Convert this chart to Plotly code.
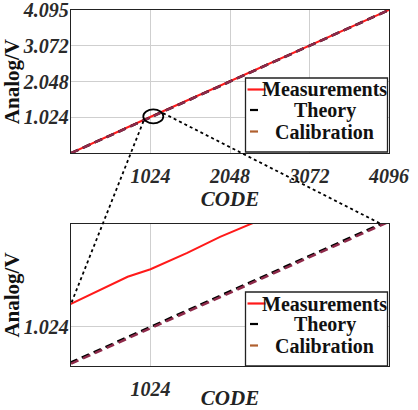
import plotly.graph_objects as go

# ---------------- data ----------------
theory_code = [0, 4095]
theory_v = [0.0, 4.095]

calib_code = [0, 4095]
calib_v = [-0.0003, 4.0947]

meas_code = [0, 1016, 1021.7, 1024, 1027.7, 1031, 1034.3, 4095]
meas_v = [0.0, 1.0292, 1.0353, 1.0370, 1.0407, 1.0443, 1.0474, 4.095]

top_xticks = [1024, 2048, 3072, 4096]
top_yticks = [1.024, 2.048, 3.072, 4.095]
top_yticktext = ["1.024", "2.048", "3.072", "4.095"]
bot_xticks = [1024]
bot_yticks = [1.024]
bot_yticktext = ["1.024"]

series_names = ["Measurements", "Theory", "Calibration"]
series_colors = ["#ff1a1a", "#000000", "#8e2a4a"]
legend_sample_colors = ["#ff1a1a", "#000000", "#b0602f"]

top_xrange = [0, 4096]
top_yrange = [0, 4.0951]
bot_xrange = [1016, 1048]
bot_yrange = [1.0152, 1.0472]

# ---------------- layout geometry ----------------
W, H = 418, 410
ML, MR, MT, MB = 71, 29, 10, 44
PW, PH = W - ML - MR, H - MT - MB
top_dom = [0.598, 1.0]
bot_dom = [0.0, 0.399]

FONT = "Liberation Serif"


def px2paper(x, y):
    return (x - ML) / PW, (H - MB - y) / PH


def data2paper(x, y, xr, yr, dom):
    px = (x - xr[0]) / (xr[1] - xr[0])
    py = dom[0] + (y - yr[0]) / (yr[1] - yr[0]) * (dom[1] - dom[0])
    return px, py


fig = go.Figure()

dashes = [None, "8px,5px", "8px,5px"]
widths = [2, 2.5, 2.5]
data_sets = [(meas_code, meas_v), (theory_code, theory_v), (calib_code, calib_v)]
for (xs, ys), name, col, dsh, wd in zip(data_sets, series_names, series_colors, dashes, widths):
    for xa, ya in [("x", "y"), ("x2", "y2")]:
        fig.add_trace(go.Scatter(
            x=xs, y=ys, mode="lines", name=name, xaxis=xa, yaxis=ya,
            line=dict(color=col, width=wd, dash=dsh), showlegend=False,
        ))

tickfont = dict(family=FONT, size=20, color="#2a2a2a", weight="bold", style="italic")
titlefont_y = dict(family=FONT, size=21, color="#111111", weight="bold")
titlefont_x = dict(family=FONT, size=21, color="#222222", weight="bold", style="italic")
grid = "#cfcfcf"

common_x = dict(showline=True, mirror=True, linecolor="#222222", linewidth=1.3,
                showgrid=True, gridcolor=grid, gridwidth=1, zeroline=False,
                ticks="", tickfont=tickfont, ticklabelstandoff=5, automargin=False,
                ticklabeloverflow="allow",
                title=dict(text="CODE", font=titlefont_x, standoff=3))
common_y = dict(showline=True, mirror=True, linecolor="#222222", linewidth=1.3,
                showgrid=True, gridcolor=grid, gridwidth=1, zeroline=False,
                ticks="", tickfont=tickfont, ticklabelstandoff=-3, automargin=False,
                ticklabeloverflow="allow",
                title=dict(text="Analog/V", font=titlefont_y, standoff=1))

fig.update_layout(
    width=W, height=H,
    margin=dict(l=ML, r=MR, t=MT, b=MB, autoexpand=False),
    paper_bgcolor="white", plot_bgcolor="white",
    showlegend=False,
    xaxis=dict(common_x, domain=[0, 1], range=top_xrange, tickvals=top_xticks, anchor="y"),
    yaxis=dict(common_y, domain=top_dom, range=top_yrange, tickvals=top_yticks,
               ticktext=top_yticktext, anchor="x"),
    xaxis2=dict(common_x, domain=[0, 1], range=bot_xrange, tickvals=bot_xticks, anchor="y2"),
    yaxis2=dict(common_y, domain=bot_dom, range=bot_yrange, tickvals=bot_yticks,
                ticktext=bot_yticktext, anchor="x2"),
)

shapes = []
annots = []

# zoom ellipse on the top panel
shapes.append(dict(type="circle", xref="x", yref="y", x0=931, x1=1189, y0=0.85, y1=1.25,
                   line=dict(color="black", width=1.8)))

# dotted connector lines
l0 = data2paper(934, 0.916, top_xrange, top_yrange, top_dom)
l1 = data2paper(bot_xrange[0], meas_v[1], bot_xrange, bot_yrange, bot_dom)
r0 = data2paper(1185, 1.145, top_xrange, top_yrange, top_dom)
r1 = data2paper(bot_yrange[1] * 1000, bot_yrange[1], bot_xrange, bot_yrange, bot_dom)
for a, b in [(l0, l1), (r0, r1)]:
    shapes.append(dict(type="line", xref="paper", yref="paper", x0=a[0], y0=a[1], x1=b[0], y1=b[1],
                       line=dict(color="black", width=1.8, dash="3px,3px")))


# manual legends (box, line samples, centred text)
def add_legend(top_px):
    x0, y0 = px2paper(245.5, top_px)
    x1, y1 = px2paper(387.5, top_px + 74)
    shapes.append(dict(type="rect", xref="paper", yref="paper", x0=x0, y0=y0, x1=x1, y1=y1,
                       line=dict(color="#222222", width=1.3), fillcolor="white", layer="above"))
    rows = [11.5, 32, 53.5]
    samples = [(247.5, 265.5), (250, 258), (250, 258)]
    for i, (name, col) in enumerate(zip(series_names, legend_sample_colors)):
        yy = top_px + rows[i]
        sa = px2paper(samples[i][0], yy)
        sb = px2paper(samples[i][1], yy)
        shapes.append(dict(type="line", xref="paper", yref="paper", x0=sa[0], y0=sa[1],
                           x1=sb[0], y1=sb[1], line=dict(color=col, width=2.2), layer="above"))
        tx, ty = px2paper(324.5, yy)
        annots.append(dict(xref="paper", yref="paper", x=tx, y=ty, text=name, showarrow=False,
                           xanchor="center", yanchor="middle",
                           font=dict(family=FONT, size=20, color="#111111", weight="bold")))


add_legend(78)
add_legend(292)

fig.update_layout(shapes=shapes, annotations=annots)
fig.write_html("out.html")
